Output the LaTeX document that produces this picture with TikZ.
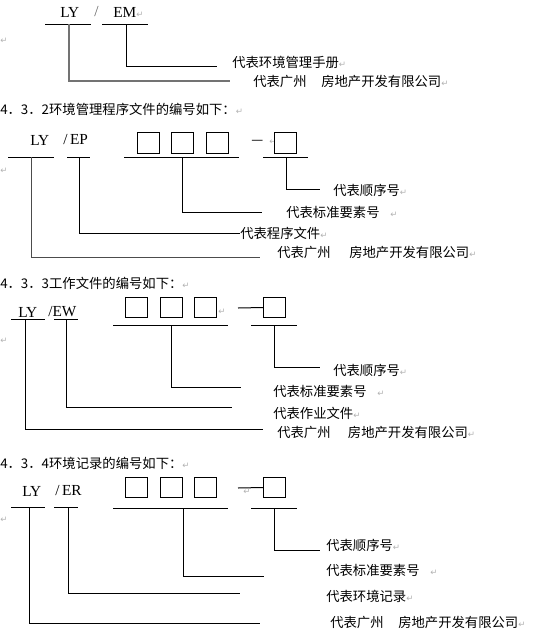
\documentclass[tikz,border=0pt]{standalone}
\usepackage{fontspec}
\setmainfont{Liberation Serif}
\newfontfamily\cjk{Noto Sans CJK SC}
\newfontfamily\symf{DejaVu Sans}
\usepackage{tikz}
\newcommand{\ret}{{\symf\color{gray!60}\fontsize{6.5}{7}\selectfont ↵}}

\begin{document}
\begin{tikzpicture}[x=0.75pt,y=-0.75pt,
  idtext/.style={font=\fontsize{11.5}{12}\selectfont,inner sep=0pt,anchor=west},
  desc/.style={font=\cjk\fontsize{10}{12}\selectfont,inner sep=0pt,anchor=west},
  slot/.style={draw,line width=0.75pt,minimum width=16.5pt,minimum height=15.5pt,inner sep=0pt},
  lead/.style={line width=0.75pt},
  greylead/.style={line width=1.2pt,black!55}]
  \useasboundingbox (0,0) rectangle (548,636);
  % section 1: manual
  \node[idtext] (ly1) at (60,12) {LY};
  \node[idtext,black!60] (sl1) at (94,12) {/};
  \node[idtext] (em1) at (113,12) {EM\ret};
  \draw[lead] (45,24) -- (91,24);
  \draw[lead] (102,24) -- (148,24);
  \node[desc] (r1) at (0,41) {\ret};
  \node[desc] (d11) at (232,62) {代表环境管理手册\ret};
  \node[desc] (d12) at (253,81) {代表广州\hspace{1.1em}房地产开发有限公司\ret};
  \coordinate (k11) at (126,24);  \coordinate (e11) at (217,66);
  \coordinate (k12) at (69,24);   \coordinate (e12) at (230,81);
  \draw[lead] (k11) |- (e11);
  \draw[greylead] (k12) |- (e12);
  % section 2: procedure files
  \node[desc] (h2) at (0,109) {4．3．2环境管理程序文件的编号如下：\ret};
  \node[idtext] (ly2) at (30,140) {LY};
  \node[idtext] (ep2) at (63,140) {/\,EP};
  \node[slot] (b21) at (148,143) {};
  \node[slot] (b22) at (182.5,143) {};
  \node[slot] (b23) at (217,143) {};
  \node[desc] (da2) at (251,142) {—};
  \node[desc] (rr2) at (269,142) {\ret};
  \node[slot] (b24) at (285.5,143) {};
  \draw[lead] (8,157) -- (54,157);
  \draw[lead] (67,157) -- (90,157);
  \draw[lead] (124,157) -- (239,157);
  \draw[lead] (263,157) -- (308,157);
  \node[desc] (r2) at (0,171) {\ret};
  \node[desc] (d21) at (333,190) {代表顺序号\ret};
  \node[desc] (d22) at (286,212) {代表标准要素号\hspace{0.8em}\ret};
  \node[desc] (d23) at (240,233) {代表程序文件\ret};
  \node[desc] (d24) at (277,252) {代表广州\hspace{1.4em}房地产开发有限公司\ret};
  \coordinate (k21) at (286,157); \coordinate (e21) at (320,189);
  \coordinate (k22) at (182,157); \coordinate (e22) at (262,212);
  \coordinate (k23) at (79,157);  \coordinate (e23) at (240,233);
  \coordinate (k24) at (31,157);  \coordinate (e24) at (260,257);
  \draw[lead] (k21) |- (e21);
  \draw[lead] (k22) |- (e22);
  \draw[lead] (k23) |- (e23);
  \draw[lead,black!70] (k24) |- (e24);
  % section 3: work files
  \node[desc] (h3) at (0,283) {4．3．3工作文件的编号如下：\ret};
  \node[idtext] (ly3) at (18,312) {LY};
  \node[idtext] (ew3) at (48,312) {/EW};
  \node[slot] (b31) at (136.5,307.5) {};
  \node[slot] (b32) at (171,307.5) {};
  \node[slot] (b33) at (205.5,307.5) {};
  \node[desc] (rr3) at (218,312) {\ret};
  \node[slot] (b34) at (274.5,307.5) {};
  \coordinate (da3) at (238,308);
  \draw[lead] (da3) -- (b34.west);
  \draw[lead] (11,319) -- (45,319);
  \draw[lead] (54,319) -- (78,319);
  \draw[lead] (113,325) -- (228,325);
  \draw[lead] (251,325) -- (297,325);
  \node[desc] (r3) at (0,341) {\ret};
  \node[desc] (d31) at (333,370) {代表顺序号\ret};
  \node[desc] (d32) at (273,391) {代表标准要素号\hspace{0.8em}\ret};
  \node[desc] (d33) at (273,413) {代表作业文件\ret};
  \node[desc] (d34) at (277,432) {代表广州\hspace{1.3em}房地产开发有限公司\ret};
  \coordinate (k31) at (274,325); \coordinate (e31) at (320,367);
  \coordinate (k32) at (171,325); \coordinate (e32) at (241,387);
  \coordinate (k33) at (66,319);  \coordinate (e33) at (232,407);
  \coordinate (k34) at (25,319);  \coordinate (e34) at (263,429);
  \draw[lead] (k31) |- (e31);
  \draw[lead] (k32) |- (e32);
  \draw[lead] (k33) |- (e33);
  \draw[lead] (k34) |- (e34);
  % section 4: records
  \node[desc] (h4) at (0,463) {4．3．4环境记录的编号如下：\ret};
  \node[idtext] (ly4) at (22,491) {LY};
  \node[idtext] (er4) at (55,491) {/\,ER};
  \node[slot] (b41) at (136.5,487.5) {};
  \node[slot] (b42) at (171,487.5) {};
  \node[slot] (b43) at (205.5,487.5) {};
  \node[slot] (b44) at (274.5,487.5) {};
  \coordinate (da4) at (238,488);
  \draw[lead] (da4) -- (b44.west);
  \node[desc] (rr4) at (243,492) {\ret};
  \draw[lead] (11,507) -- (45,507);
  \draw[lead] (54,507) -- (78,507);
  \draw[lead] (113,508) -- (228,508);
  \draw[lead] (251,508) -- (297,508);
  \node[desc] (r4) at (0,520) {\ret};
  \node[desc] (d41) at (326,545) {代表顺序号\ret};
  \node[desc] (d42) at (326,570) {代表标准要素号\hspace{0.8em}\ret};
  \node[desc] (d43) at (326,596) {代表环境记录\ret};
  \node[desc] (d44) at (330,622) {代表广州\hspace{1.1em}房地产开发有限公司\ret};
  \coordinate (k41) at (274,508); \coordinate (e41) at (320,550);
  \coordinate (k42) at (183,508); \coordinate (e42) at (264,576);
  \coordinate (k43) at (68,507);  \coordinate (e43) at (240,593);
  \coordinate (k44) at (29,507);  \coordinate (e44) at (260,623);
  \draw[lead] (k41) |- (e41);
  \draw[lead] (k42) |- (e42);
  \draw[lead] (k43) |- (e43);
  \draw[lead] (k44) |- (e44);
\end{tikzpicture}
\end{document}
